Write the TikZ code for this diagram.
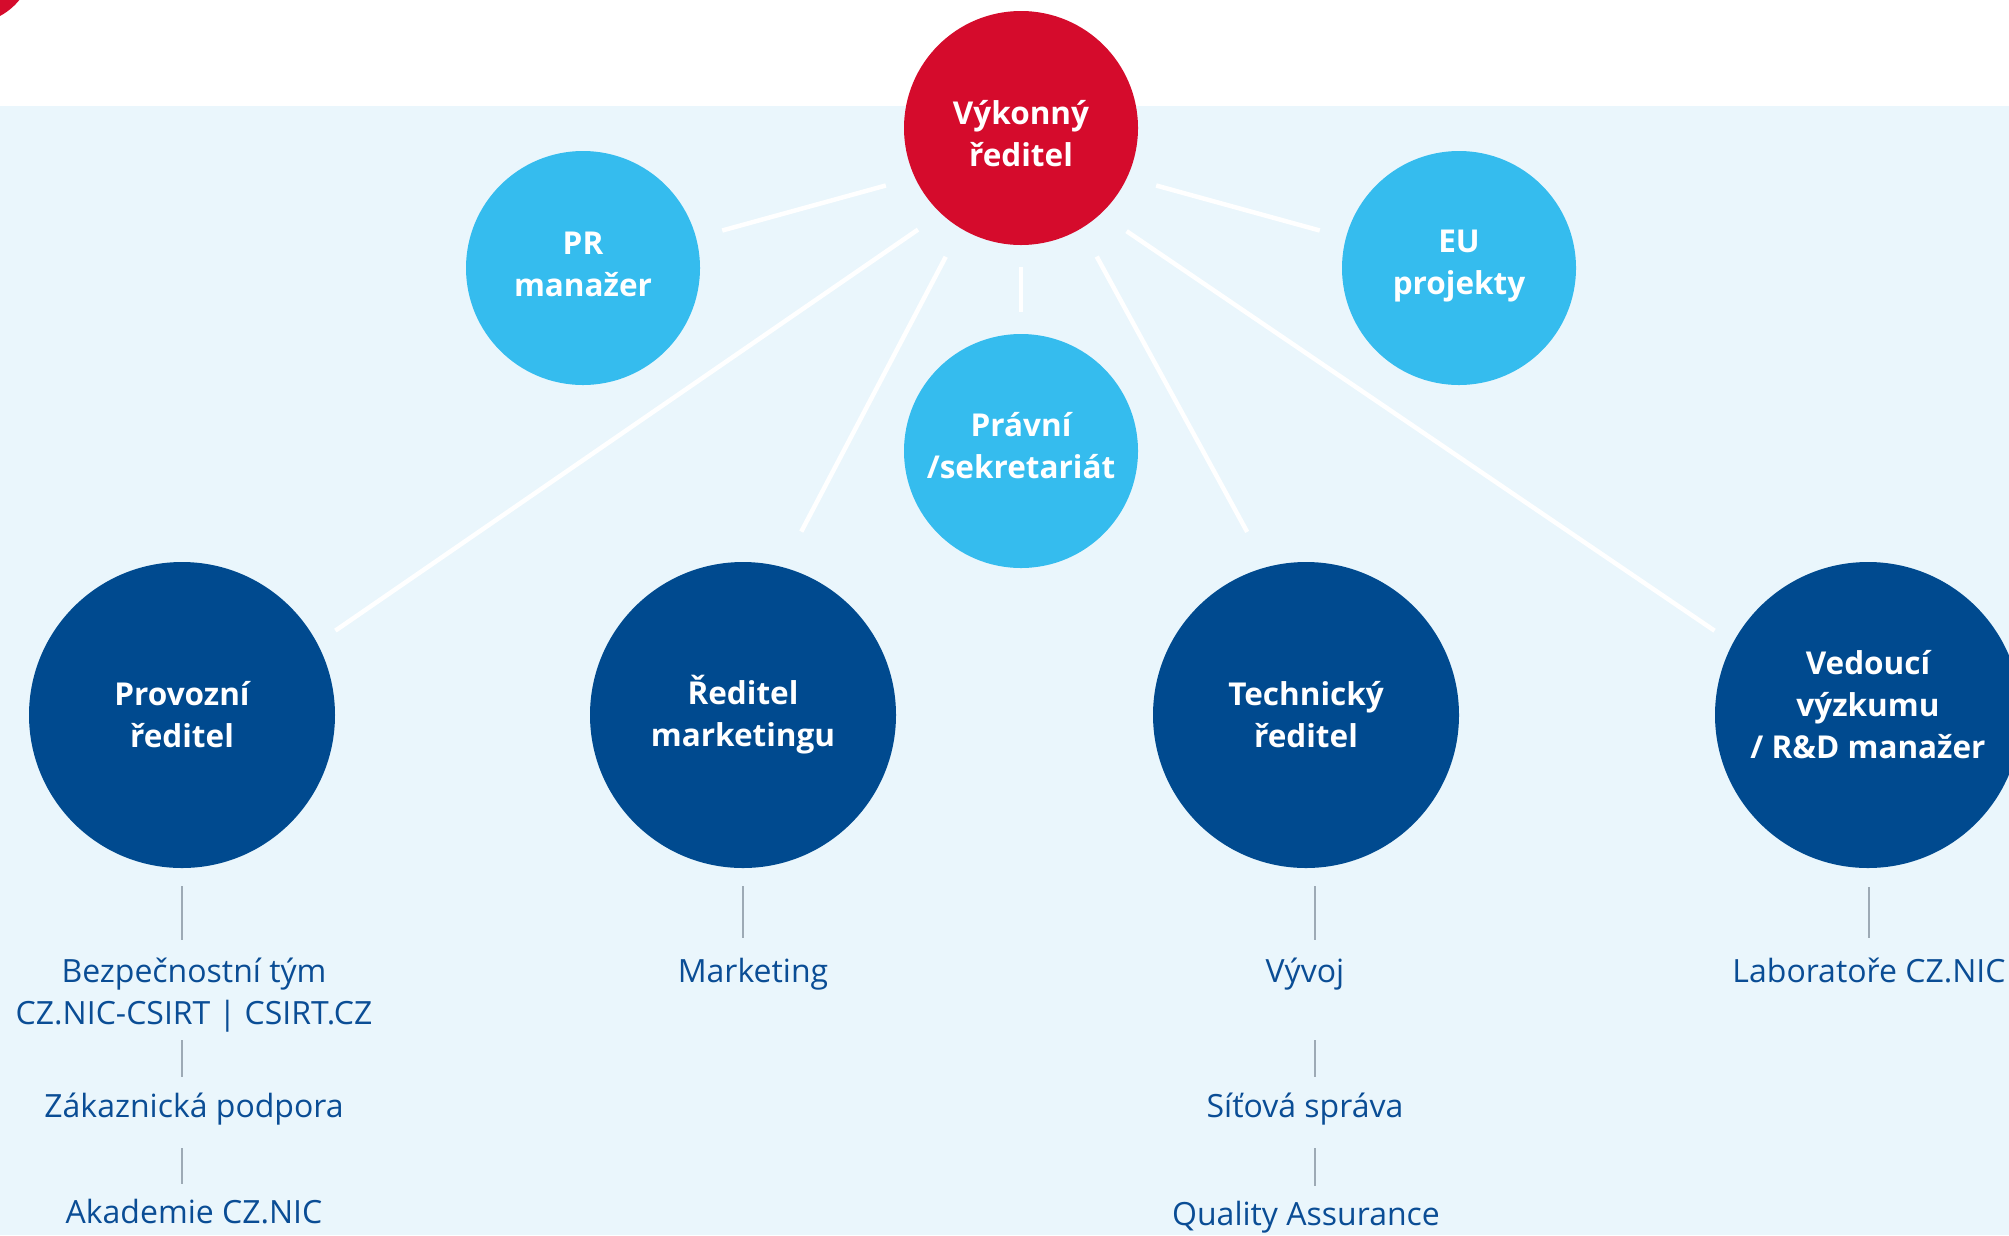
\documentclass[tikz,border=0pt]{standalone}
\usepackage{fontspec}
\setmainfont{Open Sans}
\definecolor{bgblue}{HTML}{EAF6FC}
\definecolor{cred}{HTML}{D50B2C}
\definecolor{lblue}{HTML}{35BCEE}
\definecolor{dblue}{HTML}{004A8F}
\definecolor{subtxt}{HTML}{0A4D95}
\definecolor{subline}{HTML}{9DAAB5}
\begin{document}
\begin{tikzpicture}[x=1pt,y=-1pt,
  circ/.style={circle, inner sep=0pt},
  topc/.style={circ, fill=lblue, minimum size=234pt},
  execc/.style={circ, fill=cred, minimum size=234pt},
  deptc/.style={circ, fill=dblue, minimum size=306pt},
  ctext/.style={inner sep=0pt, align=center, text=white, font=\bfseries\fontsize{31.5}{42}\selectfont},
  spoke/.style={draw=white, line width=4.5pt},
  subl/.style={draw=subline, line width=1.2pt},
  unitt/.style={text=subtxt, font=\fontsize{32}{42}\selectfont, anchor=base, inner sep=0pt}
]
\useasboundingbox (0,0) rectangle (2009,1235);
\fill[white] (0,0) rectangle (2009,106);
\fill[bgblue] (0,106) rectangle (2009,1235);
\fill[cred] (-30,-40) circle[radius=63.5];

\node[execc] (ceo) at (1021,128) {};
\node[topc] (pr) at (583,268) {};
\node[topc] (eu) at (1459,268) {};
\node[topc] (legal) at (1021,451) {};
\node[deptc] (ops) at (182,715) {};
\node[deptc] (mkt) at (743,715) {};
\node[deptc] (cto) at (1306,715) {};
\node[deptc] (rnd) at (1868,715) {};

\node[ctext] (ceot) at ([yshift=-6pt]ceo.center) {Výkonný\\ředitel};
\node[ctext] (prt) at ([yshift=4pt]pr.center) {PR\\manažer};
\node[ctext] (eut) at ([yshift=2pt]eu.center) {EU\\projekty};
\node[ctext] (legalt) at ([yshift=5pt]legal.center) {Právní\\/sekretariát};
\node[ctext] (opst) at (ops.center) {Provozní\\ředitel};
\node[ctext] (mktt) at (mkt.center) {Ředitel\\marketingu};
\node[ctext] (ctot) at (cto.center) {Technický\\ředitel};
\node[ctext] (rndt) at ([yshift=10pt]rnd.center) {Vedoucí\\výzkumu\\/ R\&D manažer};

\draw[spoke, shorten <=27pt, shorten >=30pt] (pr.15) -- (ceo.205);
\draw[spoke, shorten <=27pt, shorten >=30pt] (eu.165) -- (ceo.335);
\draw[spoke, shorten <=22pt, shorten >=22pt] (ceo.south) -- (legal.north);
\draw[spoke, shorten <=28pt, shorten >=22pt] (ceo.227) -- (ops.28);
\draw[spoke, shorten <=32pt, shorten >=40pt] (ceo.239) -- (mkt.75);
\draw[spoke, shorten <=32pt, shorten >=40pt] (ceo.301) -- (cto.105);
\draw[spoke, shorten <=31pt, shorten >=22pt] (ceo.313) -- (rnd.152);

\node[unitt] (sec) at (194,982) {Bezpečnostní tým};
\node[unitt] (secb) at (194,1024) {CZ.NIC-CSIRT | CSIRT.CZ};
\node[unitt] (zak) at (194,1117) {Zákaznická podpora};
\node[unitt] (aka) at (194,1223) {Akademie CZ.NIC};
\node[unitt] (mk) at (753,982) {Marketing};
\node[unitt] (vyv) at (1305,982) {Vývoj};
\node[unitt] (sit) at (1305,1117) {Síťová správa};
\node[unitt] (qa) at (1306,1225) {Quality Assurance};
\node[unitt] (lab) at (1869,982) {Laboratoře CZ.NIC};

\draw[subl] ([yshift=-18pt]ops.south) -- ++(0,54);
\draw[subl] ([yshift=-172pt]ops.south) -- ++(0,37);
\draw[subl] ([yshift=-280pt]ops.south) -- ++(0,36);
\draw[subl] ([yshift=-18pt]mkt.south) -- ++(0,52);
\draw[subl] ([xshift=9pt,yshift=-18pt]cto.south) -- ++(0,54);
\draw[subl] ([xshift=9pt,yshift=-172pt]cto.south) -- ++(0,37);
\draw[subl] ([xshift=9pt,yshift=-280pt]cto.south) -- ++(0,38);
\draw[subl] ([xshift=1pt,yshift=-19pt]rnd.south) -- ++(0,51);
\end{tikzpicture}
\end{document}
